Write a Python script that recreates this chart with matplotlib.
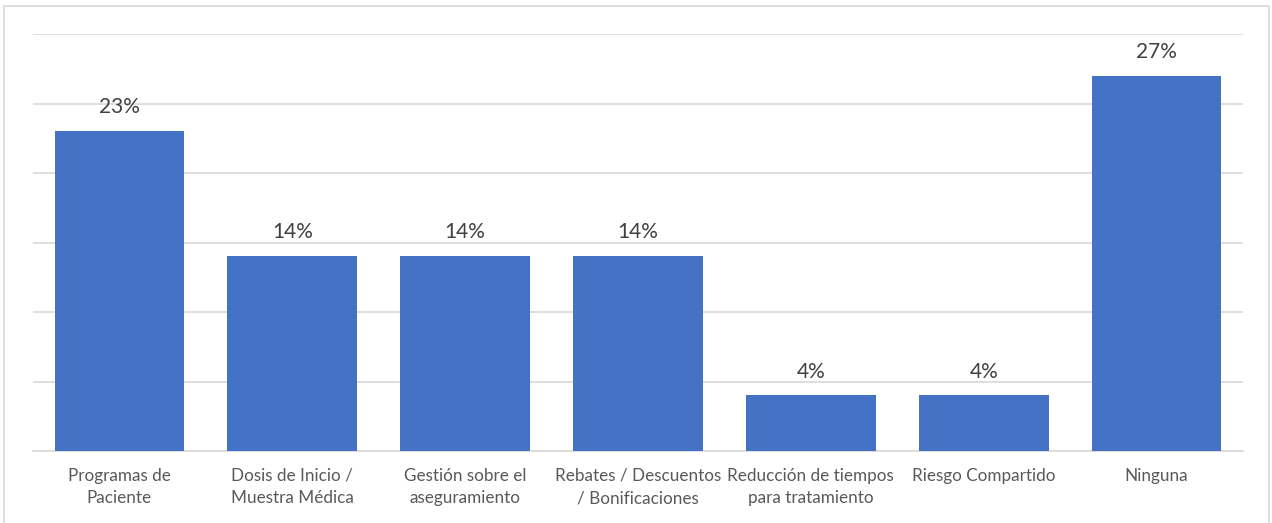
import matplotlib.pyplot as plt
import matplotlib.ticker as mticker
from matplotlib.patches import Rectangle

categorias = ["Programas de\nPaciente", "Dosis de Inicio /\nMuestra Médica",
              "Gestión sobre el\naseguramiento", "Rebates / Descuentos\n/ Bonificaciones",
              "Reducción de tiempos\npara tratamiento", "Riesgo Compartido", "Ninguna"]
porcentajes = [23, 14, 14, 14, 4, 4, 27]

plt.rcParams['font.family'] = ['Lato', 'DejaVu Sans']

fig = plt.figure(figsize=(12.72, 5.23), dpi=100)
ax = fig.add_axes([33 / 1272, 1 - 451 / 523, 1210 / 1272, 417 / 523])

# marco gris alrededor del grafico
fig.patches.append(Rectangle((4 / 1272, -0.05), 1265 / 1272, 1.05 - 6 / 523,
                             transform=fig.transFigure, fill=False,
                             edgecolor="#D9D9D9", linewidth=1.2))

x = range(len(categorias))
barras = ax.bar(x, porcentajes, width=0.75, color="#4472C4", zorder=3)
for b, v in zip(barras, porcentajes):
    ax.text(b.get_x() + b.get_width() / 2, v + 1.0, f"{v}%", ha="center", va="bottom",
            fontsize=15, color="#404040")

ax.set_xlim(-0.5, len(categorias) - 0.5)
ax.set_ylim(0, 30)
ax.yaxis.set_major_locator(mticker.MultipleLocator(5))
ax.grid(True, axis='y', color="#D9D9D9", linewidth=1.2, zorder=0)
ax.set_yticklabels([])
ax.tick_params(axis='y', length=0)
ax.tick_params(axis='x', length=0, pad=12)
ax.set_xticks(list(x))
ax.set_xticklabels(categorias, fontsize=12.3, color="#595959", linespacing=1.5)
for s in ["top", "right", "left"]:
    ax.spines[s].set_visible(False)
ax.spines["bottom"].set_color("#D9D9D9")
ax.spines["bottom"].set_linewidth(1.2)

plt.savefig("out.png", dpi=100)
